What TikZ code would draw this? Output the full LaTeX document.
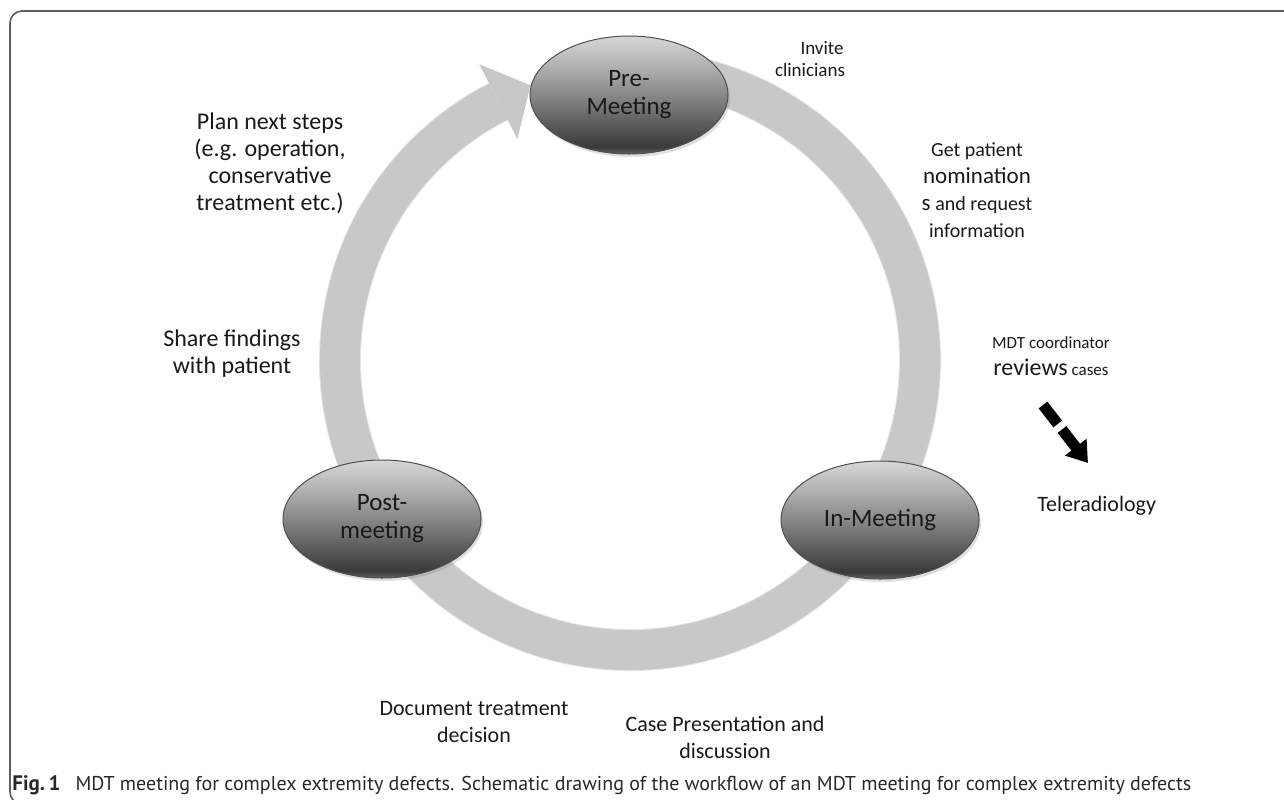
\documentclass[tikz,border=0pt]{standalone}
\usepackage{fontspec}
\setmainfont{Carlito}
\newfontfamily\capfont{PT Sans}
\usetikzlibrary{shapes.geometric,arrows.meta,calc,shadows}
\definecolor{ringcol}{RGB}{200,200,200}
\definecolor{framecol}{RGB}{95,95,95}
\definecolor{gA}{RGB}{214,214,214}
\definecolor{gB}{RGB}{176,176,176}
\definecolor{gC}{RGB}{135,135,135}
\definecolor{gD}{RGB}{58,58,58}
\definecolor{gE}{RGB}{100,100,100}
\definecolor{txt}{RGB}{25,25,25}
\definecolor{captxt}{RGB}{40,40,40}
\pgfdeclareverticalshading{glossy}{100bp}{color(0bp)=(gE); color(25bp)=(gE); color(28bp)=(gD); color(50bp)=(gC); color(62bp)=(gB); color(75bp)=(gA); color(100bp)=(gA)}
\tikzset{
  stage/.style={ellipse, shade, shading=glossy, draw={rgb,255:red,80;green,80;blue,80}, line width=0.5pt,
    minimum width=99pt, minimum height=59pt, inner sep=0pt, align=center,
    font=\fontsize{12.5}{14}\selectfont, text=txt,
    drop shadow={opacity=0.25, shadow xshift=1pt, shadow yshift=-1.5pt}},
  lbl/.style={align=center, text=txt, font=\fontsize{11}{13.5}\selectfont, inner sep=0pt},
  ring/.style={draw=ringcol, line width=20pt},
  dasharrow/.style={draw=black, line width=5.5pt, dash pattern=on 12pt off 3.5pt,
    -{Triangle[length=10pt,width=13pt]}},
}
\begin{document}
\begin{tikzpicture}[x=0.5pt,y=-0.5pt]
\useasboundingbox (0,0) rectangle (1284,799);
\begin{scope}
  \clip (0,0) rectangle (1284,799);
  \draw[framecol, line width=0.8pt, rounded corners=6pt] (10,11) rectangle (1300,804);
\end{scope}

% circular arrow
\coordinate (C) at (630,360);
\coordinate (S) at ($(C)+(80:145pt)$);
\coordinate (P) at ($(C)+(117:145pt)$);
\begin{scope}[xshift=0.8pt,yshift=-1.2pt]
  \draw[draw=black, opacity=0.10, line width=21pt] (S) arc[start angle=80, end angle=-243, radius=145pt];
\end{scope}
\draw[ring] (S) arc[start angle=80, end angle=-243, radius=145pt];
\fill[ringcol] ($(P)+(117:21pt)$) -- ($(P)+(27:18pt)$) -- ($(P)+(-63:21pt)$) -- cycle;

% stages
\node[stage] (pre) at (629,95) {Pre-\\Meeting};
\node[stage] (in) at (880,520) {In-Meeting};
\node[stage] (post) at (382,519) {Post-\\meeting};

% labels
\node[lbl, font=\fontsize{9.5}{11}\selectfont] (invite) at (810,59) {\hspace*{12pt}Invite\\clinicians};
\node[lbl, font=\fontsize{10}{13.5}\selectfont] (getpat) at (977,190)
  {Get patient\\{\fontsize{11.5}{13.5}\selectfont nomination}\\{\fontsize{11.5}{13.5}\selectfont s} and request\\information};
\node[lbl, font=\fontsize{8.5}{13.5}\selectfont] (mdt) at (1051,356)
  {MDT coordinator\\{\fontsize{12}{13.5}\selectfont reviews} cases};
\coordinate (dA) at (1043,405);
\coordinate (dB) at (1088,463);
\draw[dasharrow] (dA) -- (dB);
\node[lbl, anchor=west] (tele) at (1037,506) {Teleradiology};
\node[lbl, font=\fontsize{12}{13.5}\selectfont] (plan) at (270,163)
  {Plan next steps\\(e.g. operation,\\conservative\\treatment etc.)};
\node[lbl, font=\fontsize{12}{13.5}\selectfont] (share) at (232,354) {Share findings\\with patient};
\node[lbl] (doc) at (474,722) {Document treatment\\decision};
\node[lbl] (case) at (725,737) {Case Presentation and\\discussion};

% caption
\node[anchor=west, inner sep=0pt, text=captxt, font=\capfont\fontsize{10}{12}\selectfont] (cap) at (12,785)
  {{\fontsize{10.5}{12}\selectfont\textbf{Fig.\,1}}\hspace{7.5pt}MDT meeting for complex extremity defects. Schematic drawing of the workflow of an MDT meeting for complex extremity defects};
\end{tikzpicture}
\end{document}
